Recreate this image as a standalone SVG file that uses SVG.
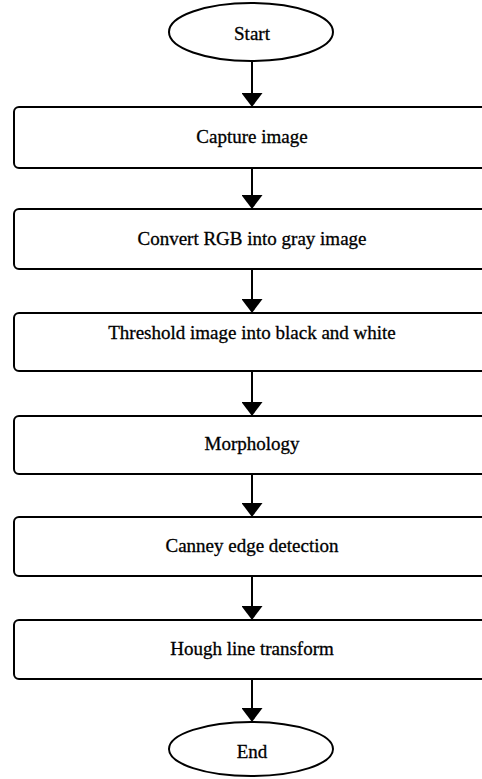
<svg xmlns="http://www.w3.org/2000/svg" width="482" height="779" viewBox="0 0 482 779">
  <style>
    .shape { fill: #ffffff; stroke: #000000; stroke-width: 2; }
    .label { font-family: "Liberation Serif", "Times New Roman", serif; font-size: 19px; fill: #000000; stroke: #000000; stroke-width: 0.3; text-anchor: middle; }
    .flow { stroke: #000000; stroke-width: 2; fill: none; marker-end: url(#head); }
  </style>
  <defs>
    <marker id="head" markerUnits="userSpaceOnUse" viewBox="0 0 14 21" refX="2" refY="10.5" markerWidth="14" markerHeight="21" orient="auto">
      <path d="M0,0 L14,10.5 L0,21 z" fill="#000000"/>
    </marker>
  </defs>
  <rect width="482" height="779" fill="#ffffff"/>

  <g id="connectors">
    <line class="flow" x1="252" y1="61" x2="252" y2="95"/>
    <line class="flow" x1="252" y1="168" x2="252" y2="197"/>
    <line class="flow" x1="252" y1="269" x2="252" y2="301"/>
    <line class="flow" x1="252" y1="371" x2="252" y2="404"/>
    <line class="flow" x1="252" y1="474" x2="252" y2="505"/>
    <line class="flow" x1="252" y1="576" x2="252" y2="608"/>
    <line class="flow" x1="252" y1="679" x2="252" y2="710"/>
  </g>

  <g id="start">
    <ellipse class="shape" cx="251" cy="32" rx="82" ry="29"/>
    <text class="label" x="252" y="40">Start</text>
  </g>

  <g id="capture">
    <rect class="shape" x="14" y="107" width="500" height="61" rx="5"/>
    <text class="label" x="252" y="143">Capture image</text>
  </g>

  <g id="convert">
    <rect class="shape" x="14" y="209" width="500" height="60" rx="5"/>
    <text class="label" x="252" y="245">Convert RGB into gray image</text>
  </g>

  <g id="threshold">
    <rect class="shape" x="14" y="313" width="500" height="58" rx="5"/>
    <text class="label" x="252" y="339">Threshold image into black and white</text>
  </g>

  <g id="morphology">
    <rect class="shape" x="14" y="416" width="500" height="58" rx="5"/>
    <text class="label" x="252" y="450">Morphology</text>
  </g>

  <g id="canney">
    <rect class="shape" x="14" y="517" width="500" height="59" rx="5"/>
    <text class="label" x="252" y="552">Canney edge detection</text>
  </g>

  <g id="hough">
    <rect class="shape" x="14" y="620" width="500" height="59" rx="5"/>
    <text class="label" x="252" y="655">Hough line transform</text>
  </g>

  <g id="end">
    <ellipse class="shape" cx="251" cy="749" rx="82" ry="27"/>
    <text class="label" x="252" y="758">End</text>
  </g>
</svg>
